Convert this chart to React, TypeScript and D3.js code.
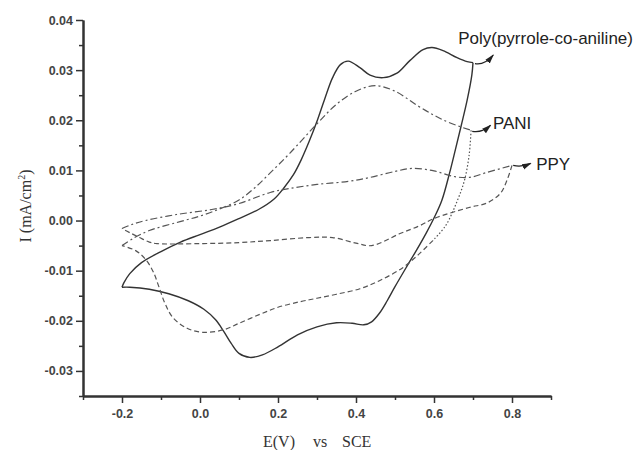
import { useEffect, useRef } from "react";
import * as d3 from "d3";

// cyclic voltammograms, [E (V vs SCE), I (mA/cm2)]
// forward = anodic sweep from -0.2 V, reverse = the way back
const polyForward: [number, number][] = [
  [-0.2, -0.0133], [-0.195, -0.0124], [-0.18, -0.0106], [-0.15, -0.0084], [-0.1, -0.0062],
  [-0.05, -0.0043], [0.0, -0.0028], [0.05, -0.0013], [0.1, 0.0004], [0.15, 0.0022],
  [0.19, 0.0043], [0.215, 0.0065], [0.24, 0.0092], [0.26, 0.0122], [0.28, 0.0158],
  [0.3, 0.0198], [0.32, 0.0243], [0.34, 0.0285], [0.36, 0.0311], [0.38, 0.0318],
  [0.41, 0.0305], [0.436, 0.029], [0.47, 0.0285], [0.505, 0.0294], [0.538, 0.0319],
  [0.572, 0.0341], [0.595, 0.0345], [0.623, 0.0339], [0.659, 0.0325], [0.685, 0.0317],
  [0.7, 0.0315],
];
const polyReverse: [number, number][] = [
  [0.7, 0.0315], [0.697, 0.029], [0.685, 0.024], [0.67, 0.019], [0.655, 0.0142],
  [0.64, 0.0095], [0.62, 0.004], [0.6, 0.0005], [0.58, -0.0025], [0.556, -0.0058],
  [0.53, -0.0092], [0.5, -0.0132], [0.48, -0.016], [0.46, -0.0185], [0.44, -0.0202],
  [0.42, -0.0208], [0.39, -0.0205], [0.35, -0.0204], [0.3, -0.0212], [0.25, -0.0228],
  [0.2, -0.0252], [0.16, -0.0268], [0.128, -0.0273], [0.1, -0.0265], [0.08, -0.0245],
  [0.06, -0.022], [0.04, -0.0198], [0.01, -0.0177], [-0.03, -0.016], [-0.08, -0.0146],
  [-0.13, -0.0137], [-0.18, -0.0133], [-0.2, -0.0133],
];
const paniForward: [number, number][] = [
  [-0.2, -0.005], [-0.17, -0.0035], [-0.13, -0.002], [-0.06, -0.0004], [0.0, 0.0009],
  [0.05, 0.0023], [0.1, 0.0041], [0.14, 0.0065], [0.18, 0.0095], [0.23, 0.0134],
  [0.3, 0.0193], [0.35, 0.0232], [0.4, 0.0258], [0.449, 0.0269], [0.5, 0.0258],
  [0.556, 0.023], [0.6, 0.021], [0.64, 0.0195], [0.695, 0.018],
];
const paniReverseTop: [number, number][] = [
  [0.695, 0.018], [0.69, 0.013], [0.678, 0.008], [0.66, 0.004], [0.63, -0.001], [0.597, -0.004],
];
const paniReverse: [number, number][] = [
  [0.597, -0.004], [0.56, -0.0068], [0.52, -0.0094], [0.46, -0.012], [0.41, -0.0136],
  [0.35, -0.0147], [0.3, -0.0155], [0.256, -0.0162], [0.2, -0.0173], [0.154, -0.0187],
  [0.1, -0.0205], [0.06, -0.0218], [0.008, -0.0223], [-0.033, -0.0215], [-0.07, -0.0193],
  [-0.09, -0.0165], [-0.105, -0.0133], [-0.12, -0.0102], [-0.14, -0.0077], [-0.165, -0.006],
  [-0.2, -0.005],
];
const ppyForward: [number, number][] = [
  [-0.2, -0.0016], [-0.175, -0.0008], [-0.14, 0.0], [-0.06, 0.0012], [0.03, 0.0022],
  [0.1, 0.0034], [0.18, 0.0056], [0.23, 0.0064], [0.3, 0.0072], [0.38, 0.0078],
  [0.436, 0.0086], [0.5, 0.0098], [0.546, 0.0104], [0.6, 0.0099], [0.65, 0.0088],
  [0.69, 0.0086], [0.736, 0.0096], [0.8, 0.011],
];
const ppyReverse: [number, number][] = [
  [0.8, 0.011], [0.787, 0.008], [0.77, 0.0054], [0.736, 0.0035], [0.69, 0.0026],
  [0.6, 0.0004], [0.564, -0.001], [0.513, -0.0026], [0.44, -0.005], [0.4, -0.0045],
  [0.34, -0.0034], [0.28, -0.0034], [0.18, -0.004], [0.1, -0.0044], [0.0, -0.0046],
  [-0.11, -0.0046], [-0.13, -0.0043], [-0.155, -0.0034], [-0.178, -0.0025], [-0.2, -0.0016],
];

const E_TICKS = [-0.2, 0, 0.2, 0.4, 0.6, 0.8];
const E_MINOR = [-0.3, -0.1, 0.1, 0.3, 0.5, 0.7, 0.9];
const I_TICKS = [-0.03, -0.02, -0.01, 0, 0.01, 0.02, 0.03, 0.04];
const I_MINOR = [-0.035, -0.025, -0.015, -0.005, 0.005, 0.015, 0.025, 0.035];

// curve labels: text, arrow from -> to, text anchor point
const labelNames = ["Poly(pyrrole-co-aniline)", "PANI", "PPY"];
const arrowFrom: [number, number][] = [[0.705, 0.0313], [0.698, 0.0178], [0.803, 0.011]];
const arrowTo: [number, number][] = [[0.752, 0.033], [0.745, 0.019], [0.848, 0.0114]];
const labelAt: [number, number][] = [[0.662, 0.0362], [0.751, 0.0191], [0.862, 0.011]];

const sans = "'Liberation Sans', Arial, sans-serif";
const serif = "'Liberation Serif', 'Times New Roman', serif";

export default function App() {
  const xAxisRef = useRef<SVGGElement>(null);
  const yAxisRef = useRef<SVGGElement>(null);

  const width = 638;
  const height = 450;

  const x = d3.scaleLinear().domain([-0.3, 0.9]).range([83, 551]);
  const y = d3.scaleLinear().domain([-0.035, 0.04]).range([396, 20]);

  const line = d3.line<[number, number]>()
    .x(d => x(d[0]))
    .y(d => y(d[1]))
    .curve(d3.curveCatmullRom.alpha(0.5));

  useEffect(() => {
    const gx = d3.select(xAxisRef.current!);
    const gy = d3.select(yAxisRef.current!);
    gx.selectAll("*").remove();
    gy.selectAll("*").remove();

    // minor ticks first, labelled major ticks on top
    gx.append("g").call(
      d3.axisBottom(x).tickValues(E_MINOR).tickSize(4).tickSizeOuter(0).tickFormat(() => "")
    );
    gx.append("g").call(
      d3.axisBottom(x).tickValues(E_TICKS).tickSize(7).tickSizeOuter(0).tickPadding(6)
        .tickFormat(d => (+d).toFixed(1))
    );

    gy.append("g").call(
      d3.axisLeft(y).tickValues(I_MINOR).tickSize(4).tickSizeOuter(0).tickFormat(() => "")
    );
    gy.append("g").call(
      d3.axisLeft(y).tickValues(I_TICKS).tickSize(7).tickSizeOuter(0).tickPadding(3)
        .tickFormat(d => (+d).toFixed(2))
    );

    [gx, gy].forEach(g => {
      g.selectAll(".domain").attr("stroke", "#333").attr("stroke-width", 2);
      g.selectAll(".tick line").attr("stroke", "#333").attr("stroke-width", 1.5);
      g.selectAll("text")
        .attr("font-family", sans)
        .attr("font-size", 12.5)
        .attr("font-weight", "bold")
        .attr("fill", "#444");
    });

    return () => {
      gx.selectAll("*").remove();
      gy.selectAll("*").remove();
    };
  }, []);

  const arrowPath = (i: number) => {
    const [x0, y0] = [x(arrowFrom[i][0]), y(arrowFrom[i][1])];
    const [x1, y1] = [x(arrowTo[i][0]), y(arrowTo[i][1])];
    const cx = (x0 + x1) / 2;
    const cy = Math.max(y0, y1) + 2;
    return `M${x0},${y0}Q${cx},${cy} ${x1},${y1}`;
  };

  return (
    <svg width={width} height={height} style={{ position: "absolute", left: 0, top: 0, background: "#fff" }}>
      <defs>
        <marker id="ah" viewBox="0 0 10 10" refX="9" refY="5" markerWidth="8" markerHeight="8" orient="auto">
          <path d="M0,2L10,5L0,8z" fill="#222" />
        </marker>
      </defs>

      <g fill="none" strokeLinejoin="round">
        <path d={line(polyForward)!} stroke="#333" strokeWidth={1.4} />
        <path d={line(polyReverse)!} stroke="#333" strokeWidth={1.4} />
        <path d={line(paniForward)!} stroke="#555" strokeWidth={1.2} strokeDasharray="7,3,2,3" />
        <path d={line(paniReverseTop)!} stroke="#555" strokeWidth={1.2} strokeDasharray="1.5,2" />
        <path d={line(paniReverse)!} stroke="#555" strokeWidth={1.2} strokeDasharray="5,3" />
        <path d={line(ppyForward)!} stroke="#555" strokeWidth={1.2} strokeDasharray="7,3,2,3" />
        <path d={line(ppyReverse)!} stroke="#555" strokeWidth={1.2} strokeDasharray="5,3" />
      </g>

      {labelNames.map((name, i) => (
        <g key={name}>
          <path d={arrowPath(i)} fill="none" stroke="#222" strokeWidth={1.2} markerEnd="url(#ah)" />
          <text
            x={x(labelAt[i][0])}
            y={y(labelAt[i][1])}
            dominantBaseline="middle"
            fontFamily={sans}
            fontSize={17}
            fill="#222"
          >
            {name}
          </text>
        </g>
      ))}

      <g ref={xAxisRef} transform={`translate(0, ${y(-0.035)})`} />
      <g ref={yAxisRef} transform={`translate(${x(-0.3)}, 0)`} />

      {/* axis titles */}
      <text fontFamily={serif} fontSize={16} fill="#333" y={447}>
        <tspan x={263}>E(V)</tspan>
        <tspan x={313}>vs</tspan>
        <tspan x={342}>SCE</tspan>
      </text>
      <text
        transform="translate(31, 206) rotate(-90)"
        textAnchor="middle"
        fontFamily={serif}
        fontSize={16}
        fill="#333"
      >
        I (mA/cm<tspan dy={-6} fontSize={10}>2</tspan><tspan dy={6}>)</tspan>
      </text>
    </svg>
  );
}
